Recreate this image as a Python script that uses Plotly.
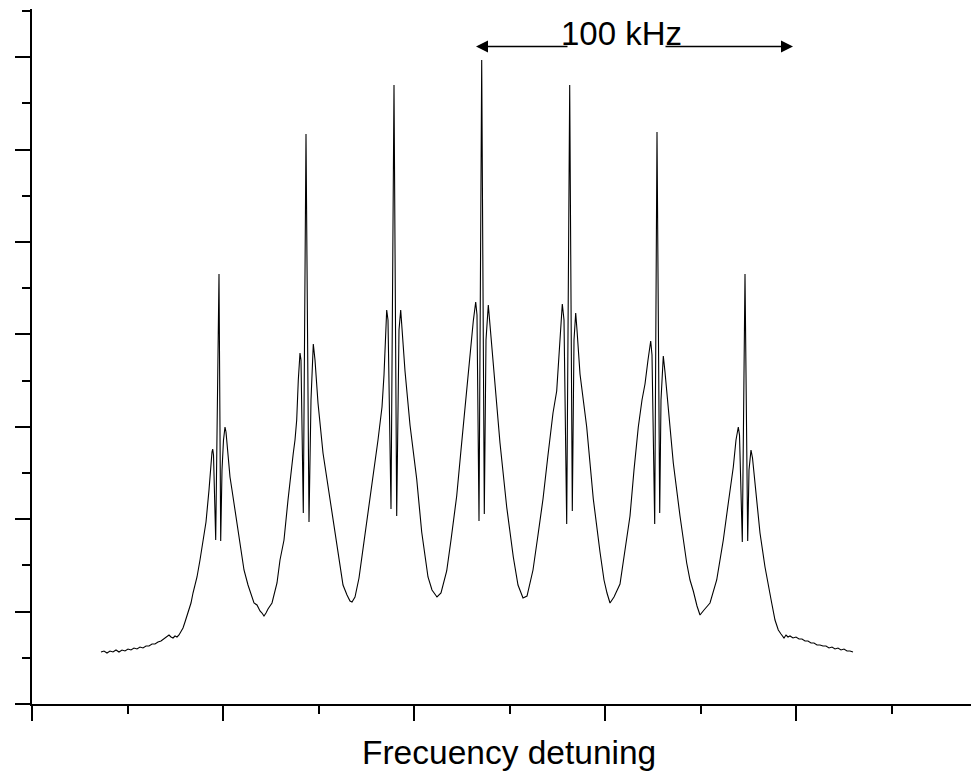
import plotly.graph_objects as go

detuning = [69, 72, 75, 78, 81, 84, 87, 90, 93, 96, 99, 102, 105, 108, 111, 114, 117, 120, 123, 126,
            129, 132, 135, 137, 139, 141, 143, 145, 147, 149, 151, 153, 156, 159, 161, 163, 165, 168, 171, 174,
            177, 178.7, 180, 180.7, 181.5, 183.7, 187, 188.7, 190, 191.5, 193, 194, 196, 198, 200, 203, 206, 208,
            212, 216, 219, 222, 225, 228, 230, 232, 234, 236, 240, 245, 248, 252, 256, 259, 261.3, 263, 264.7,
            266.3, 268, 269, 271.3, 274, 277, 279, 281.3, 283, 286, 291, 296, 301, 306, 311, 315, 318, 320,
            323, 327, 331, 336, 341, 346, 350, 352, 354.7, 356, 359, 362, 364.7, 367, 368.7, 370, 373, 378,
            384.7, 389.7, 393, 396, 400, 405, 409, 414.7, 419, 424.7, 429, 433, 438, 441.3, 443.7, 445, 447,
            449.7, 452.3, 454, 456.3, 458, 461.3, 465, 468, 474.7, 481.3, 486, 491, 495, 501, 506, 511, 516,
            521, 524.7, 528, 530.3, 532, 534.7, 537.7, 540.3, 542, 543.7, 545, 548, 554.7, 561.3, 568, 572,
            575, 578, 582, 588, 593, 598, 602, 606.3, 610, 613, 616, 618.7, 620, 622.7, 625, 627.7, 629, 631.3,
            633, 636.3, 641.3, 648, 654.7, 658, 661.3, 665, 668, 672, 678, 684.7, 688, 691.3, 696.3, 701.3,
            704, 706.3, 707.5, 710.3, 713, 715.7, 717, 719, 720.5, 723, 728, 733, 736, 739.7, 743, 746.3, 749,
            752, 754, 756, 758, 761, 764, 767, 770, 773, 776, 779, 782, 785, 788, 791, 794, 797, 800, 803, 806,
            809, 812, 815, 818, 821]
signal = [52, 53, 51, 53, 52, 54, 52, 54, 53, 55, 54, 56, 55, 57, 56, 58, 58, 60, 60, 62,
          63, 65, 67, 69, 67, 66, 68, 67, 69, 72, 76, 82, 91, 101, 111, 119, 127, 144, 164, 182,
          214, 241, 252, 255, 249, 164, 430, 163, 234, 264, 277, 272, 249, 227, 214, 194, 176, 164,
          134, 119, 109, 101, 99, 93, 91, 88, 91, 95, 101, 121, 144, 164, 204, 234, 251, 264, 284,
          324, 351, 344, 191, 570, 182, 304, 360, 344, 301, 251, 217, 184, 151, 119, 109, 103, 102,
          107, 126, 154, 189, 225, 264, 297, 329, 394, 384, 195, 619, 188, 374, 394, 374, 333, 279,
          225, 172, 149, 127, 114, 107, 111, 133, 164, 208, 254, 297, 347, 383, 402, 389, 183,
          644, 190, 364, 399, 379, 333, 294, 261, 197, 147, 119, 106, 108, 134, 169, 205, 249,
          291, 313, 366, 400, 384, 180, 619, 193, 364, 391, 374, 330, 277, 205, 152, 124,
          111, 101, 107, 120, 154, 188, 234, 277, 304, 320, 344, 363, 349, 180, 572, 191, 304, 348,
          332, 295, 241, 188, 141, 124, 113, 98, 89, 94, 101, 124, 144, 164, 201, 237,
          264, 277, 269, 162, 430, 163, 234, 254, 246, 221, 171, 137, 119, 101, 84, 74, 70,
          66, 69, 67, 68, 66, 67, 65, 65, 63, 63, 61, 61, 59, 59, 58, 58, 56, 57, 55, 56,
          54, 55, 53, 53, 52]

# Axis scale (unlabelled ticks)
x_range = [0, 947]
y_range = [0, 695]
x_major = 191
y_major = 92.4

# Annotation: 100 kHz marker
span_text = "100 kHz"
span_left_tip, span_left_tail = 444, 537
span_right_tail, span_right_tip = 632, 761
span_level = 657.5
span_text_x, span_text_y = 589, 671

fig = go.Figure()
fig.add_trace(go.Scatter(x=detuning, y=signal, mode="lines",
                         line=dict(color="black", width=1.1), showlegend=False,
                         hoverinfo="skip"))

axis_common = dict(showgrid=False, zeroline=False, showticklabels=False,
                   showline=True, linecolor="black", linewidth=2,
                   ticks="outside", ticklen=15, tickwidth=2, tickcolor="black")

fig.update_xaxes(range=x_range, tick0=0, dtick=x_major,
                 minor=dict(dtick=x_major / 2, ticks="outside", ticklen=8,
                            tickwidth=2, tickcolor="black", showgrid=False),
                 **axis_common)
fig.update_yaxes(range=y_range, tick0=0, dtick=y_major,
                 minor=dict(dtick=y_major / 2, ticks="outside", ticklen=8,
                            tickwidth=2, tickcolor="black", showgrid=False),
                 **axis_common)

font = "Liberation Sans, Arial, sans-serif"
fig.add_annotation(x=span_left_tip, y=span_level, ax=span_left_tail, ay=span_level,
                   xref="x", yref="y", axref="x", ayref="y", text="",
                   showarrow=True, arrowhead=2, arrowsize=1.6, arrowwidth=1.5,
                   arrowcolor="black")
fig.add_annotation(x=span_right_tip, y=span_level, ax=span_right_tail, ay=span_level,
                   xref="x", yref="y", axref="x", ayref="y", text="",
                   showarrow=True, arrowhead=2, arrowsize=1.6, arrowwidth=1.5,
                   arrowcolor="black")
fig.add_annotation(x=span_text_x, y=span_text_y, xref="x", yref="y", text=span_text,
                   showarrow=False, font=dict(family=font, size=33, color="black"),
                   xanchor="center", yanchor="middle")
fig.add_annotation(x=0.5037, y=-0.0705, xref="paper", yref="paper",
                   text="Frecuency detuning", showarrow=False,
                   font=dict(family=font, size=33.5, color="black"),
                   xanchor="center", yanchor="middle")

# The page body adds an 8 px offset, so the figure is 8 px smaller on each axis
fig.update_layout(width=971, height=764, autosize=False,
                  margin=dict(l=24, r=0, t=1, b=68),
                  paper_bgcolor="white", plot_bgcolor="white",
                  font=dict(family=font))

fig.write_html("out.html")
